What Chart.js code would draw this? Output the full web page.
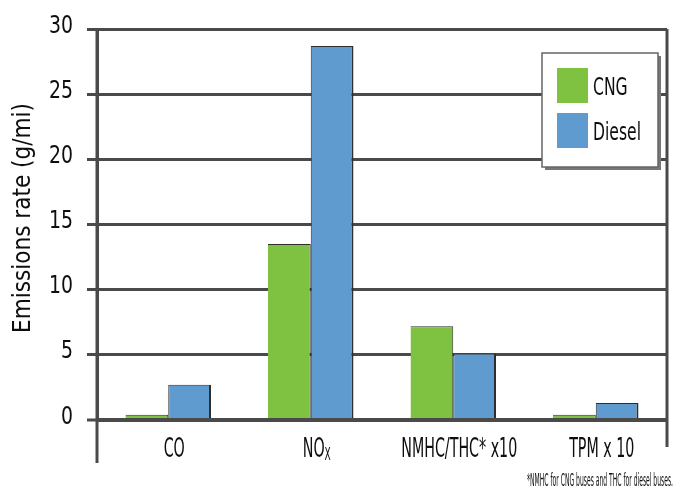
<!DOCTYPE html>
<html>
<head>
<meta charset="utf-8">
<script src="https://cdn.jsdelivr.net/npm/chart.js@4.4.0/dist/chart.umd.min.js"></script>
<style>
  html, body { margin: 0; padding: 0; background: #fff; }
  #wrap { width: 675px; height: 495px; }
</style>
</head>
<body>
<div id="wrap"><canvas id="chart"></canvas></div>
<script>
// data
const categories = ["CO", "NOX", "NMHC/THC* x10", "TPM x 10"];
const cngValues = [0.4, 13.5, 7.2, 0.4];
const dieselValues = [2.7, 28.7, 5.1, 1.3];
const yTicks = [0, 5, 10, 15, 20, 25, 30];
const yTitle = "Emissions rate (g/mi)";
const footnote = "*NMHC for CNG buses and THC for diesel buses.";

const FONT = "'DejaVu Sans Condensed', 'Liberation Sans', sans-serif";
const WEIGHT = "";
const GREEN = "#7fc241";
const BLUE = "#5f9bce";
const LINE = "#4a4a4a";
const INK = "#0e0e0e";

function fontOf(size) { return WEIGHT + size + "px " + FONT; }

// squeezed text, the original uses a very narrow face
function squeezed(ctx, text, x, y, size, sx, align) {
  ctx.save();
  ctx.translate(x, y);
  ctx.scale(sx, 1);
  ctx.font = fontOf(size);
  ctx.textAlign = align;
  ctx.textBaseline = "middle";
  ctx.fillText(text, 0, 0);
  ctx.restore();
}

function widthOf(ctx, text, size) {
  ctx.save();
  ctx.font = fontOf(size);
  const w = ctx.measureText(text).width;
  ctx.restore();
  return w;
}

function drawCategory(ctx, text, x, y, sx) {
  if (text === "NOX") {
    const a = widthOf(ctx, "NO", 27) * sx;
    const b = widthOf(ctx, "X", 17) * sx;
    const start = x - (a + b) / 2;
    squeezed(ctx, "NO", start, y, 27, sx, "left");
    squeezed(ctx, "X", start + a, y + 6, 17, sx, "left");
  } else {
    squeezed(ctx, text, x, y, 27, sx, "center");
  }
}

// text, frame bits and the boxed legend
const extras = {
  id: "extras",
  afterDraw(chart) {
    const { ctx, chartArea } = chart;
    const xs = chart.scales.x;
    const ys = chart.scales.y;
    ctx.save();
    ctx.strokeStyle = LINE;
    ctx.lineWidth = 3;
    // left axis runs below the zero line, right edge too
    ctx.beginPath();
    ctx.moveTo(chartArea.left, chartArea.top);
    ctx.lineTo(chartArea.left, chartArea.bottom + 43);
    ctx.moveTo(chartArea.right, chartArea.top);
    ctx.lineTo(chartArea.right, chartArea.bottom + 27);
    ctx.stroke();

    ctx.fillStyle = INK;
    const catSx = 116 / widthOf(ctx, categories[2], 27);
    chart.data.labels.forEach((lab, i) => {
      drawCategory(ctx, lab, xs.getPixelForValue(i) + 6, chartArea.bottom + 30, catSx);
    });
    const tickSx = 24 / widthOf(ctx, "30", 25);
    yTicks.forEach(v => {
      squeezed(ctx, String(v), chartArea.left - 24, ys.getPixelForValue(v) - 3, 25, tickSx, "right");
    });

    // axis title, rotated
    ctx.save();
    ctx.translate(23, 218);
    ctx.rotate(-Math.PI / 2);
    squeezed(ctx, yTitle, 0, 0, 25, 230 / widthOf(ctx, yTitle, 25), "center");
    ctx.restore();

    // footnote
    squeezed(ctx, footnote, 673, 482, 17, 146 / widthOf(ctx, footnote, 17), "right");

    // legend box
    const bx = chartArea.right - 125, by = chartArea.top + 24, bw = 116, bh = 114;
    ctx.fillStyle = "#777";
    ctx.fillRect(bx + 3, by + 3, bw, bh);
    ctx.fillStyle = "#fff";
    ctx.fillRect(bx, by, bw, bh);
    ctx.strokeStyle = "#666";
    ctx.lineWidth = 1.5;
    ctx.strokeRect(bx, by, bw, bh);
    const legSx = 48 / widthOf(ctx, "Diesel", 25);
    chart.data.datasets.forEach((ds, i) => {
      const sy = by + 15 + i * 45;
      ctx.fillStyle = ds.backgroundColor;
      ctx.fillRect(bx + 15, sy, 31, 35);
      ctx.fillStyle = INK;
      squeezed(ctx, ds.label, bx + 51, sy + 20, 25, legSx, "left");
    });
    ctx.restore();
  }
};

new Chart(document.getElementById("chart"), {
  type: "bar",
  data: {
    labels: categories,
    datasets: [
      {
        label: "CNG",
        data: cngValues,
        backgroundColor: GREEN,
        borderColor: "#2e2e2e",
        borderWidth: { top: 1, right: 1, left: 0, bottom: 0 },
        borderSkipped: "bottom"
      },
      {
        label: "Diesel",
        data: dieselValues,
        backgroundColor: BLUE,
        borderColor: "#2e2e2e",
        borderWidth: { top: 1, right: 2, left: 1, bottom: 0 },
        borderSkipped: "bottom"
      }
    ]
  },
  options: {
    responsive: true,
    maintainAspectRatio: false,
    animation: false,
    layout: { padding: { top: 29, right: 8, left: 0, bottom: 0 } },
    categoryPercentage: 0.6,
    barPercentage: 1.0,
    plugins: {
      legend: { display: false },
      tooltip: { enabled: false }
    },
    scales: {
      x: {
        grid: { display: false },
        border: { display: false },
        ticks: { display: false },
        afterFit(scale) { scale.height = 75; }
      },
      y: {
        min: 0,
        max: 30,
        afterBuildTicks(scale) { scale.ticks = yTicks.map(v => ({ value: v })); },
        grid: {
          color: LINE,
          lineWidth: c => (c.tick && c.tick.value === 0 ? 4 : 3),
          tickLength: 10,
          tickColor: LINE,
          tickWidth: 3
        },
        border: { display: true, color: LINE, width: 3 },
        ticks: { display: false },
        afterFit(scale) { scale.width = 97; }
      }
    }
  },
  plugins: [extras]
});
</script>
</body>
</html>
